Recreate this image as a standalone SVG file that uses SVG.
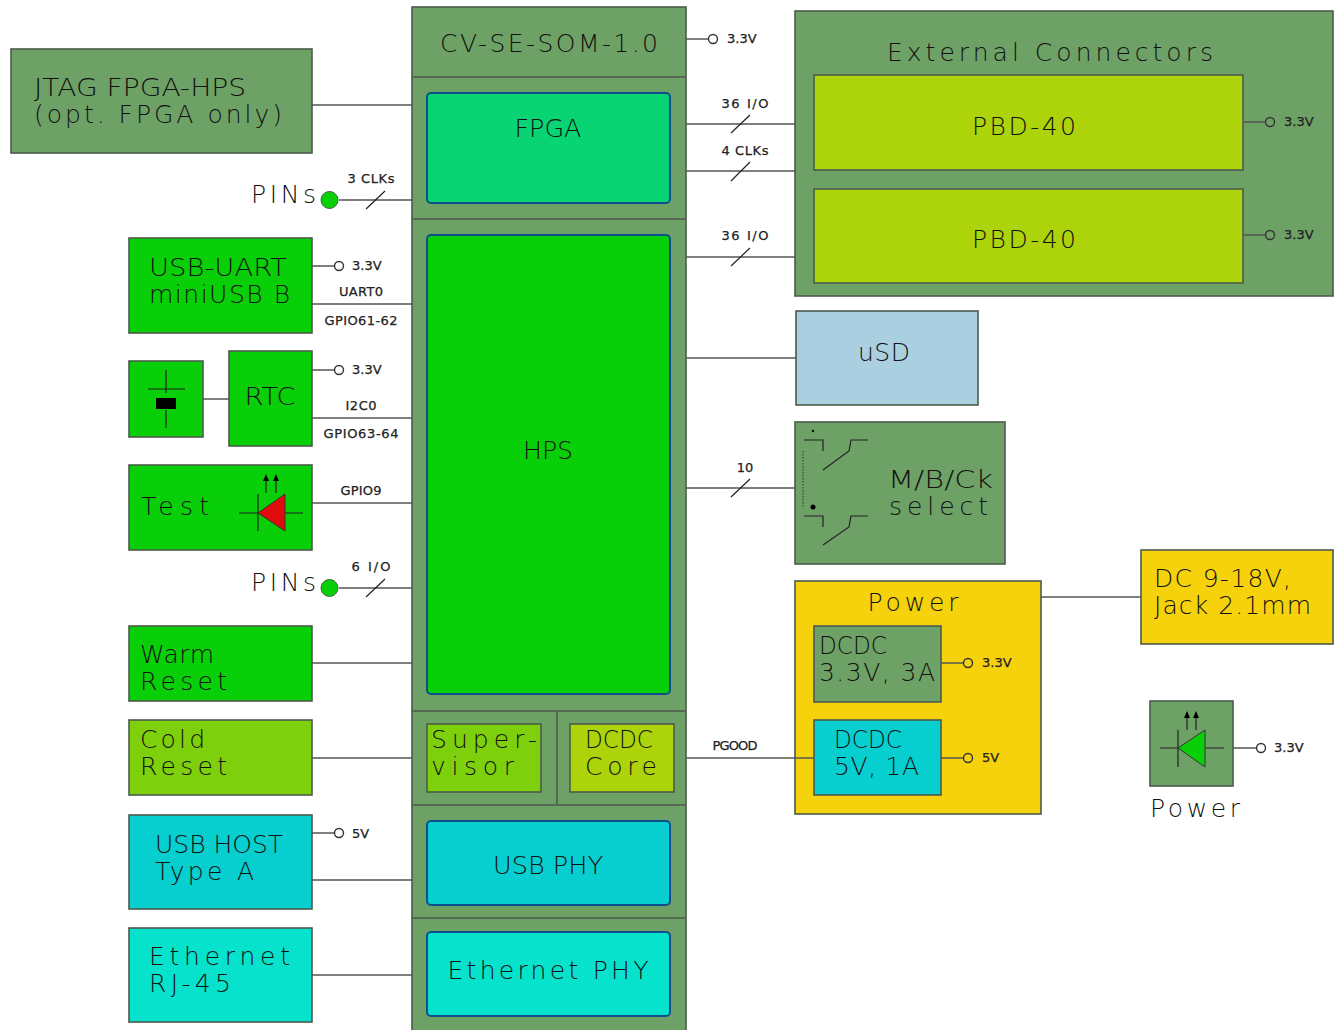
<svg xmlns="http://www.w3.org/2000/svg" width="1343" height="1030" viewBox="0 0 1343 1030">
<style>
text{font-family:"DejaVu Sans","Liberation Sans",sans-serif;fill:#111}
.l{font-size:25px;font-weight:200}
.s{font-size:13px;font-weight:400;fill:#222;stroke:#222;stroke-width:.25}
.m{text-anchor:middle}
.b{stroke:#4d5a4d;stroke-width:1.6}
.gr{fill:#6ea166}.g{fill:#09cf09}.f{fill:#08d474}.lime{fill:#add30b}.cold{fill:#7fd00c}.c{fill:#07cfcf}.e{fill:#07e2cc}.y{fill:#f6d20d}.u{fill:#a9cfe0}
.in{stroke:#0b4f8f;stroke-width:2}
.w{fill:none;stroke:#555;stroke-width:1.5}
.t{fill:none;stroke:#333;stroke-width:1.4}
.k{fill:none;stroke:#222;stroke-width:1.2}
</style>
<g id="som"><rect class="gr b" x="412" y="7" width="274" height="1030"/><path class="b" fill="none" d="M412 77H686M412 219H686M412 711H686M412 805H686M412 918H686M557 711V805"/>
<text class="l m" x="549" y="52" textLength="218">CV-SE-SOM-1.0</text></g>
<g id="fpga"><rect class="f in" x="427" y="93" width="243" height="110" rx="4"/><text class="l m" x="548" y="137" textLength="67" lengthAdjust="spacingAndGlyphs">FPGA</text></g>
<g id="hps"><rect class="g in" x="427" y="235" width="243" height="459" rx="4"/><text class="l m" x="548" y="459" textLength="50" lengthAdjust="spacingAndGlyphs">HPS</text></g>
<g id="supervisor"><rect class="cold b" x="427" y="724" width="114" height="68"/><text class="l" x="431" y="748" textLength="106">Super-</text><text class="l" x="431" y="775" textLength="83">visor</text></g>
<g id="dcdc-core"><rect class="lime b" x="570" y="724" width="104" height="68"/><text class="l" x="585" y="748" textLength="68" lengthAdjust="spacingAndGlyphs">DCDC</text><text class="l" x="585" y="775" textLength="72">Core</text></g>
<g id="usb-phy"><rect class="c in" x="427" y="821" width="243" height="84" rx="4"/><text class="l m" x="548" y="874" textLength="110" lengthAdjust="spacingAndGlyphs">USB PHY</text></g>
<g id="eth-phy"><rect class="e in" x="427" y="932" width="243" height="84" rx="4"/><text class="l m" x="548" y="979" textLength="201">Ethernet PHY</text></g>
<g id="jtag"><rect class="gr b" x="11" y="49" width="301" height="104"/><text class="l" x="34" y="96" textLength="212" lengthAdjust="spacingAndGlyphs">JTAG FPGA-HPS</text><text class="l" x="34" y="123" textLength="248">(opt. FPGA only)</text></g>
<g id="usb-uart"><rect class="g b" x="129" y="238" width="183" height="95"/><text class="l" x="149" y="276" textLength="138" lengthAdjust="spacingAndGlyphs">USB-UART</text><text class="l" x="149" y="303" textLength="141">miniUSB B</text></g>
<g id="crystal"><rect class="g b" x="129" y="361" width="74" height="76"/><path class="k" d="M166 370V393M166 410V428M148 389H185"/><rect x="156" y="398" width="20" height="11" fill="#000"/></g>
<g id="rtc"><rect class="g b" x="229" y="351" width="83" height="95"/><text class="l m" x="270" y="405" textLength="51" lengthAdjust="spacingAndGlyphs">RTC</text></g>
<g id="test"><rect class="g b" x="129" y="465" width="183" height="85"/><text class="l" x="141" y="515" textLength="68">Test</text><path class="k" d="M239 513H303M258 494V531M266 477V493M276 477V493"/><path d="M258 513L285 494V531Z" fill="#e00b0b" stroke="#333"/><path d="M263 481L266 474L269 481ZM273 481L276 474L279 481Z" fill="#000"/></g>
<g id="warm"><rect class="g b" x="129" y="626" width="183" height="75"/><text class="l" x="140" y="663" textLength="74">Warm</text><text class="l" x="140" y="690" textLength="87">Reset</text></g>
<g id="cold"><rect class="cold b" x="129" y="720" width="183" height="75"/><text class="l" x="140" y="748" textLength="65">Cold</text><text class="l" x="140" y="775" textLength="87">Reset</text></g>
<g id="usb-host"><rect class="c b" x="129" y="815" width="183" height="94"/><text class="l" x="155" y="853" textLength="128" lengthAdjust="spacingAndGlyphs">USB HOST</text><text class="l" x="155" y="880" textLength="99">Type A</text></g>
<g id="rj45"><rect class="e b" x="129" y="928" width="183" height="94"/><text class="l" x="149" y="965" textLength="141">Ethernet</text><text class="l" x="149" y="992" textLength="82">RJ-45</text></g>
<g id="ext"><rect class="gr b" x="795" y="11" width="538" height="285"/><text class="l m" x="1050" y="61" textLength="326">External Connectors</text></g>
<g id="pbd1"><rect class="lime b" x="814" y="75" width="429" height="95"/><text class="l m" x="1024" y="135" textLength="104">PBD-40</text></g>
<g id="pbd2"><rect class="lime b" x="814" y="189" width="429" height="94"/><text class="l m" x="1024" y="248" textLength="104">PBD-40</text></g>
<g id="usd"><rect class="u b" x="796" y="311" width="182" height="94"/><text class="l m" x="884" y="361" textLength="52">uSD</text></g>
<g id="mbck"><rect class="gr b" x="795" y="422" width="210" height="142"/><text class="l" x="888" y="488" textLength="105" lengthAdjust="spacingAndGlyphs">M/B/Ck</text><text class="l" x="889" y="515" textLength="99">select</text><path class="k" d="M804 440H823V451M868 440H851L849 451L823 470M804 516H823V527M868 516H851L849 527L823 545"/><path d="M803 451V507" fill="none" stroke="#333" stroke-dasharray="1.500 1.500"/><circle cx="813" cy="507" r="2.500"/><circle cx="813" cy="431" r="1.200"/></g>
<g id="power"><rect class="y b" x="795" y="581" width="246" height="233"/><text class="l m" x="913" y="611" textLength="91">Power</text></g>
<g id="dcdc33"><rect class="gr b" x="814" y="626" width="127" height="76"/><text class="l" x="819" y="654" textLength="68" lengthAdjust="spacingAndGlyphs">DCDC</text><text class="l" x="819" y="681" textLength="116">3.3V, 3A</text></g>
<g id="dcdc5"><rect class="c b" x="814" y="720" width="127" height="75"/><text class="l" x="834" y="748" textLength="68" lengthAdjust="spacingAndGlyphs">DCDC</text><text class="l" x="834" y="775" textLength="85">5V, 1A</text></g>
<g id="dc"><rect class="y b" x="1141" y="550" width="192" height="94"/><text class="l" x="1154" y="587" textLength="137">DC 9-18V,</text><text class="l" x="1154" y="614" textLength="157">Jack 2.1mm</text></g>
<g id="power-led"><rect class="gr b" x="1150" y="701" width="83" height="85"/><path class="k" d="M1160 748H1224M1178 730V767M1187 714V730M1196 714V730"/><path d="M1178 748L1205 730V767Z" fill="#09cf09" stroke="#333"/><path d="M1184 718L1187 711L1190 718ZM1193 718L1196 711L1199 718Z" fill="#000"/></g>
<g id="connectors">
<path class="w" d="M312 105H412M339 200H412M312 304H412M312 418H412M203 399H229M312 503H412M339 588H412M312 663H412M312 758H412M312 880H412M312 975H412M686 124H795M686 171H795M686 257H795M686 358H796M686 488H795M686 758H814M1041 597H1141"/>
<path class="w" d="M312 266H334M312 370H334M312 833H334M686 39H708M1243 122H1265M1243 235H1265M941 663H963M941 758H963M1233 748H1256"/>
<path class="k" d="M366 209L385 191M366 597L385 579M731 133L750 115M731 181L750 162M731 266L750 248M731 497L750 479"/>
<circle class="t" cx="339" cy="266" r="4.500"/><circle class="t" cx="339" cy="370" r="4.500"/><circle class="t" cx="339" cy="833" r="4.500"/><circle class="t" cx="713" cy="39" r="4.500"/><circle class="t" cx="1270" cy="122" r="4.500"/><circle class="t" cx="1270" cy="235" r="4.500"/><circle class="t" cx="968" cy="663" r="4.500"/><circle class="t" cx="968" cy="758" r="4.500"/><circle class="t" cx="1261" cy="748" r="4.500"/>
<circle cx="329.500" cy="200" r="8.500" fill="#09cf09" stroke="#3c6a3c"/><circle cx="329.500" cy="588" r="8.500" fill="#09cf09" stroke="#3c6a3c"/>
<text class="s" x="371" y="183" text-anchor="middle" textLength="47">3 CLKs</text>
<text class="s" x="371" y="571" text-anchor="middle" textLength="39">6 I/O</text>
<text class="s" x="361" y="296" text-anchor="middle" textLength="44">UART0</text>
<text class="s" x="361" y="325" text-anchor="middle" textLength="73">GPIO61-62</text>
<text class="s" x="361" y="410" text-anchor="middle" textLength="31">I2C0</text>
<text class="s" x="361" y="438" text-anchor="middle" textLength="75">GPIO63-64</text>
<text class="s" x="361" y="495" text-anchor="middle" textLength="41">GPIO9</text>
<text class="s" x="745" y="108" text-anchor="middle" textLength="47">36 I/O</text>
<text class="s" x="745" y="155" text-anchor="middle" textLength="47">4 CLKs</text>
<text class="s" x="745" y="240" text-anchor="middle" textLength="47">36 I/O</text>
<text class="s" x="745" y="472" text-anchor="middle">10</text>
<text class="s" x="735" y="750" text-anchor="middle" textLength="45">PGOOD</text>
<text class="s" x="352" y="270">3.3V</text><text class="s" x="352" y="374">3.3V</text><text class="s" x="352" y="838">5V</text><text class="s" x="727" y="43">3.3V</text><text class="s" x="1284" y="126">3.3V</text><text class="s" x="1284" y="239">3.3V</text><text class="s" x="982" y="667">3.3V</text><text class="s" x="982" y="762">5V</text><text class="s" x="1274" y="752">3.3V</text>
<text class="l" x="251" y="203" textLength="65">PINs</text>
<text class="l" x="251" y="591" textLength="65">PINs</text>
<text class="l" x="1150" y="817" textLength="90">Power</text>
</g>
</svg>
